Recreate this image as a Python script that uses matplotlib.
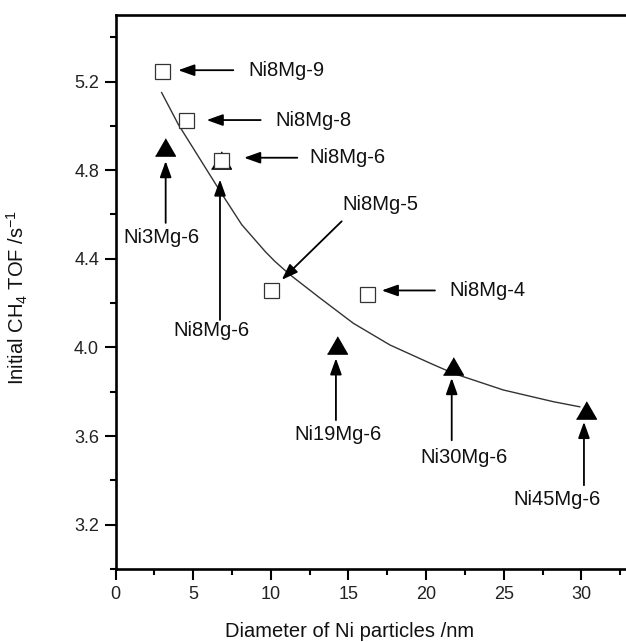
import matplotlib
matplotlib.use("Agg")
import matplotlib.pyplot as plt
from matplotlib.ticker import MultipleLocator, FormatStrFormatter

plt.rcParams['font.family'] = ['Liberation Sans', 'DejaVu Sans']
plt.rcParams['mathtext.fontset'] = 'custom'
plt.rcParams['mathtext.rm'] = 'Liberation Sans'
plt.rcParams['mathtext.it'] = 'Liberation Sans:italic'

# Ni8Mg-x series (open squares): particle diameter / nm and initial CH4 TOF / s^-1
square_names = ["Ni8Mg-9", "Ni8Mg-8", "Ni8Mg-6", "Ni8Mg-5", "Ni8Mg-4"]
square_diam = [3.00, 4.55, 6.80, 10.02, 16.16]
square_tof = [5.247, 5.028, 4.845, 4.26, 4.243]

# NixMg-6 series (filled triangles)
tri_names = ["Ni3Mg-6", "Ni8Mg-6", "Ni19Mg-6", "Ni30Mg-6", "Ni45Mg-6"]
tri_diam = [3.20, 6.80, 14.29, 21.73, 30.29]
tri_tof = [4.906, 4.845, 4.011, 3.917, 3.718]

# Decay trend line through the data
trend_diam = [2.96, 4.03, 5.11, 6.79, 8.12, 9.63, 10.26, 11.23, 13.16, 15.31,
              17.67, 20.25, 21.75, 24.97, 28.20, 29.90]
trend_tof = [5.150, 5.007, 4.886, 4.698, 4.554, 4.433, 4.388, 4.328, 4.223, 4.109,
             4.011, 3.929, 3.883, 3.808, 3.755, 3.732]

# Label annotations: text, arrow tail (x, y), arrow head (x, y), text anchor (x, y), alignment
annotations = [
    ("Ni8Mg-9", (7.58, 5.251), (4.03, 5.251), (8.53, 5.251), "left"),
    ("Ni8Mg-8", (9.34, 5.026), (5.86, 5.026), (10.31, 5.026), "left"),
    ("Ni8Mg-6", (11.70, 4.856), (8.27, 4.856), (12.45, 4.856), "left"),
    ("Ni8Mg-6", (6.72, 4.124), (6.72, 4.758), (6.19, 4.075), "center"),
    ("Ni3Mg-6", (3.22, 4.562), (3.22, 4.841), (2.94, 4.495), "center"),
    ("Ni8Mg-5", (14.56, 4.569), (10.70, 4.305), (14.60, 4.645), "left"),
    ("Ni8Mg-4", (20.57, 4.257), (17.14, 4.257), (21.49, 4.257), "left"),
    ("Ni19Mg-6", (14.19, 3.672), (14.19, 3.951), (14.34, 3.605), "center"),
    ("Ni30Mg-6", (21.65, 3.581), (21.65, 3.862), (22.43, 3.505), "center"),
    ("Ni45Mg-6", (30.17, 3.378), (30.17, 3.664), (28.43, 3.315), "center"),
]

fig = plt.figure(figsize=(6.26, 6.42), dpi=100)
ax = fig.add_axes([0.1848, 0.1137, 0.8182, 0.8629])

ink = "#111111"
tri_marker = [(-1.0, -0.866), (1.0, -0.866), (0.0, 0.866)]

ax.plot(trend_diam, trend_tof, color="#333333", lw=1.0, zorder=2)
ax.plot(tri_diam, tri_tof, linestyle="none", marker=tri_marker, ms=14.5,
        mfc="black", mec="black", mew=0.8, zorder=3)
ax.plot(square_diam, square_tof, linestyle="none", marker="s", ms=10.8,
        mfc="white", mec="#333333", mew=0.9, zorder=4)

for text, tail, head, pos, ha in annotations:
    ax.annotate("", xy=head, xytext=tail,
                arrowprops=dict(arrowstyle="-|>,head_length=0.7,head_width=0.25",
                                color="black", lw=1.3, shrinkA=0, shrinkB=0,
                                mutation_scale=14),
                zorder=5)
    ax.text(pos[0], pos[1], text, ha=ha, va="center", fontsize=14.5, color=ink, zorder=5)

ax.set_xlim(0, 33)
ax.set_ylim(3.0, 5.5)
ax.xaxis.set_major_locator(MultipleLocator(5))
ax.xaxis.set_minor_locator(MultipleLocator(2.5))
ax.yaxis.set_major_locator(MultipleLocator(0.4))
ax.yaxis.set_minor_locator(MultipleLocator(0.2))
ax.yaxis.set_major_formatter(FormatStrFormatter("%.1f"))

for side in ("left", "bottom", "top", "right"):
    ax.spines[side].set_linewidth(1.9)
    ax.spines[side].set_color("black")

ax.tick_params(which="both", direction="out", top=False, right=False,
               width=1.5, colors="black", labelcolor="#222222")
ax.tick_params(which="major", length=8, labelsize=13, pad=4)
ax.tick_params(which="minor", length=4.3)

ax.set_xlabel("Diameter of Ni particles /nm", fontsize=14.5, color=ink)
ax.set_ylabel(r"Initial CH$_4$ TOF /s$^{-1}$", fontsize=14.5, color=ink)
ax.xaxis.set_label_coords((350 - 115.7) / 512.2, -0.095)
ax.yaxis.set_label_coords(-0.167, 0.49)

fig.savefig("out.png", dpi=100)
